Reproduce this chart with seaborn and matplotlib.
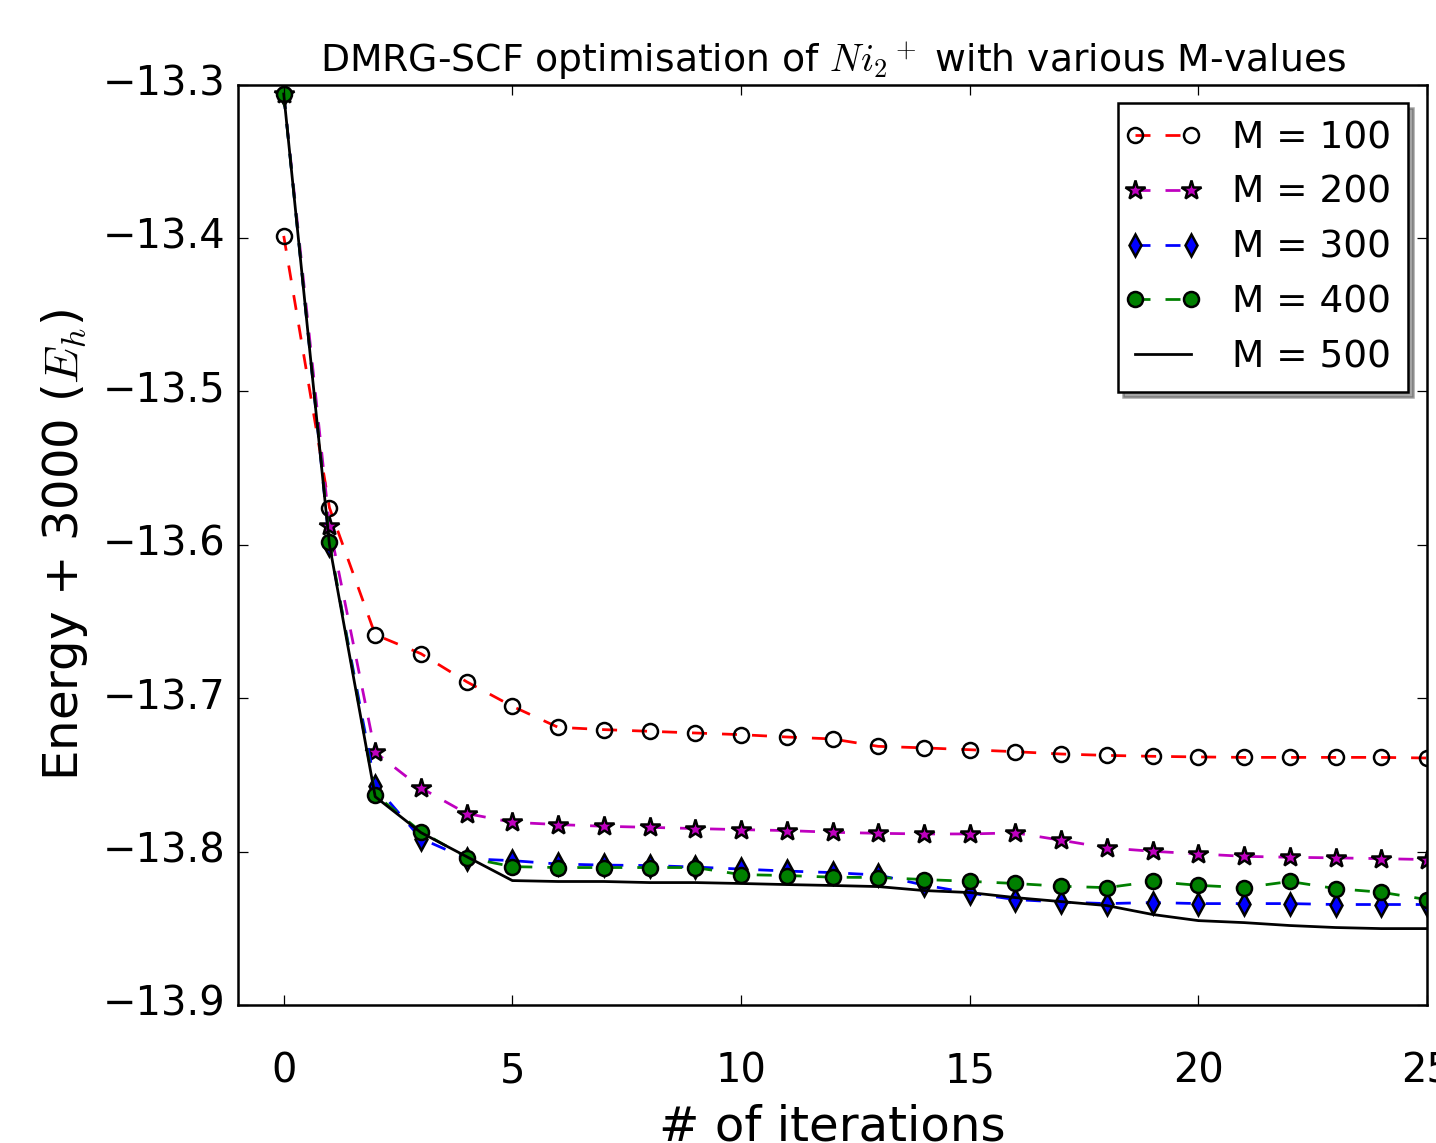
import matplotlib
matplotlib.use('Agg')
import matplotlib.pyplot as plt
from matplotlib.lines import Line2D
from matplotlib.legend_handler import HandlerLine2D
import seaborn as sns

# Energies (+3000 Eh) per DMRG-SCF iteration
iterations = list(range(26))

m100 = [-13.3987, -13.5759, -13.6586, -13.6710, -13.6893, -13.7053, -13.7190,
        -13.7205, -13.7216, -13.7227, -13.7238, -13.7253, -13.7266, -13.7314,
        -13.7324, -13.7336, -13.7349, -13.7364, -13.7373, -13.7379, -13.7383,
        -13.7386, -13.7386, -13.7386, -13.7386, -13.7390]
m200 = [-13.3062, -13.5876, -13.7353, -13.7585, -13.7752, -13.7809, -13.7824,
        -13.7835, -13.7842, -13.7850, -13.7857, -13.7863, -13.7874, -13.7881,
        -13.7885, -13.7885, -13.7878, -13.7926, -13.7976, -13.7998, -13.8015,
        -13.8031, -13.8037, -13.8041, -13.8046, -13.8052]
m300 = [-13.3062, -13.6000, -13.7570, -13.7915, -13.8046, -13.8059, -13.8081,
        -13.8088, -13.8091, -13.8101, -13.8114, -13.8127, -13.8137, -13.8153,
        -13.8218, -13.8270, -13.8313, -13.8329, -13.8339, -13.8332, -13.8339,
        -13.8339, -13.8339, -13.8345, -13.8345, -13.8345]
m400 = [-13.3062, -13.5980, -13.7629, -13.7870, -13.8039, -13.8098, -13.8104,
        -13.8104, -13.8104, -13.8104, -13.8150, -13.8156, -13.8167, -13.8169,
        -13.8182, -13.8194, -13.8208, -13.8226, -13.8235, -13.8195, -13.8220,
        -13.8235, -13.8195, -13.8241, -13.8265, -13.8313]
m500 = [-13.3062, -13.6000, -13.7642, -13.7876, -13.8033, -13.8189, -13.8195,
        -13.8195, -13.8202, -13.8202, -13.8208, -13.8215, -13.8221, -13.8228,
        -13.8254, -13.8267, -13.8300, -13.8326, -13.8352, -13.8410, -13.8450,
        -13.8463, -13.8482, -13.8495, -13.8502, -13.8502]

labels = ['M = 100', 'M = 200', 'M = 300', 'M = 400', 'M = 500']
x_ticks = [0, 5, 10, 15, 20, 25]
y_ticks = [-13.9, -13.8, -13.7, -13.6, -13.5, -13.4, -13.3]

plt.style.use('classic')
plt.rcParams['xtick.major.pad'] = 18.5
plt.rcParams['ytick.major.pad'] = 5
plt.rcParams['axes.formatter.useoffset'] = False

fig = plt.figure(figsize=(1436 / 180, 1143 / 180), facecolor='white')
fig.subplots_adjust(left=238 / 1436, right=1427 / 1436,
                    bottom=138 / 1143, top=1058.5 / 1143)
ax = fig.add_subplot(111)

common = dict(ax=ax, errorbar=None, linewidth=1.1, markeredgecolor='k', markeredgewidth=1)
sns.lineplot(x=iterations, y=m100, color='r', linestyle='--', marker='o',
             markerfacecolor='none', markersize=6, label=labels[0], **common)
sns.lineplot(x=iterations, y=m200, color='m', linestyle='--', marker='*',
             markersize=8, label=labels[1], **common)
sns.lineplot(x=iterations, y=m300, color='b', linestyle='--', marker='d',
             markersize=6, label=labels[2], **common)
sns.lineplot(x=iterations, y=m400, color='g', linestyle='--', marker='o',
             markersize=6, label=labels[3], **common)
sns.lineplot(x=iterations, y=m500, color='k', linestyle='-', label=labels[4],
             ax=ax, errorbar=None, linewidth=1.1)

ax.set_xlim(-1, 25)
ax.set_ylim(-13.9, -13.3)
ax.set_xticks(x_ticks)
ax.set_yticks(y_ticks)
ax.tick_params(labelsize=16)
ax.set_xlabel('# of iterations', fontsize=19.3)
ax.set_ylabel('Energy + 3000 ($E_h$)', fontsize=19.3)
ax.set_title('DMRG-SCF optimisation of $Ni_2{}^+$ with various M-values', fontsize=15.1)

ax.legend(loc='upper right', fontsize=15, numpoints=2, shadow=True, fancybox=False,
          handlelength=1.5, handletextpad=1.1, borderpad=0.45, labelspacing=0.5,
          framealpha=1, edgecolor='k',
          handler_map={Line2D: HandlerLine2D(marker_pad=0)})

fig.savefig('out.png', dpi=180, facecolor='white')
